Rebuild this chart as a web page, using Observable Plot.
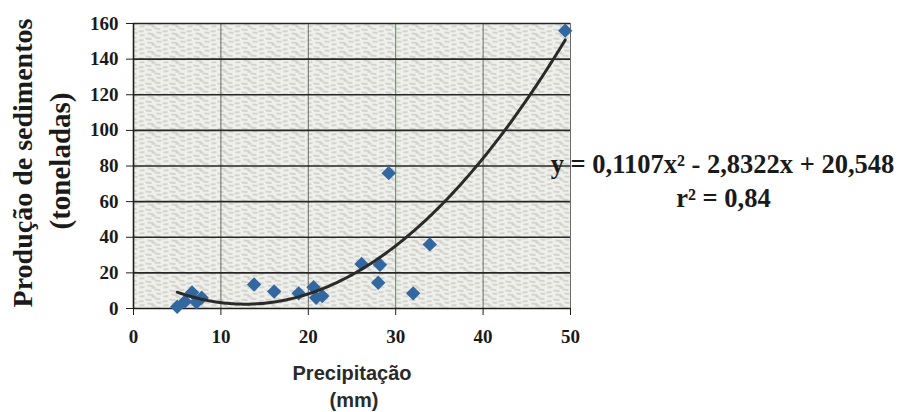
<!DOCTYPE html>
<html>
<head>
<meta charset="utf-8">
<script src="https://cdn.jsdelivr.net/npm/d3@7"></script>
<script src="https://cdn.jsdelivr.net/npm/@observablehq/plot@0.6"></script>
<style>
  html, body { margin: 0; padding: 0; background: #ffffff; }
  #chart { width: 904px; height: 412px; overflow: hidden; }
</style>
</head>
<body>
<div id="chart"></div>
<script>
// Precipitação (mm)
const precip = [5.0, 5.9, 6.7, 7.2, 7.8, 13.8, 16.1, 18.9, 20.6, 20.9, 21.6, 26.1, 28.0, 28.2, 29.2, 32.0, 33.9, 49.4];
// Produção de sedimentos (toneladas)
const sediment = [1, 4, 9, 3.5, 6, 13.5, 9.5, 8.5, 12, 6, 7, 25, 14.5, 24.5, 76, 8.5, 36, 156];
// Trend line coefficients (y = a x² + b x + c), as shown on the chart
const trendCoef = [0.1107, -2.8322, 20.548];
const xTicks = [0, 10, 20, 30, 40, 50];
const yTicks = [0, 20, 40, 60, 80, 100, 120, 140, 160];
const yTitle = ["Produção de sedimentos", "(toneladas)"];
const xTitle = ["Precipitação", "(mm)"];
const eqLines = ["y = 0,1107x² - 2,8322x + 20,548", "r² = 0,84"];

const points = precip.map((x, i) => ({x, y: sediment[i]}));
const xMin = d3.min(precip), xMax = d3.max(precip);
const trend = d3.range(0, 201).map(k => {
  const x = xMin + (xMax - xMin) * k / 200;
  return {x, y: trendCoef[0] * x * x + trendCoef[1] * x + trendCoef[2]};
});

const serif = "'Liberation Serif', 'Times New Roman', serif";
const sans = "'Liberation Sans', Arial, sans-serif";

const chart = Plot.plot({
  width: 904,
  height: 412,
  marginLeft: 133,
  marginRight: 334,
  marginTop: 23,
  marginBottom: 104,
  style: {fontFamily: serif, fontSize: "19px", fontWeight: "bold", color: "#1a1a1a", background: "#ffffff"},
  x: {domain: [0, 50]},
  y: {domain: [0, 160]},
  marks: [
    Plot.frame({fill: "url(#tex)", stroke: "none"}),
    Plot.ruleX(xTicks.filter(d => d !== 0 && d !== 30), {stroke: "#6a6a6a", strokeWidth: 1}),
    Plot.ruleX([30], {stroke: "#3f9a42", strokeWidth: 1}),
    Plot.ruleY(yTicks.filter(d => d > 0), {stroke: "#262626", strokeWidth: 1.6}),
    Plot.ruleY([0], {stroke: "#1e1e1e", strokeWidth: 1.6}),
    Plot.ruleX([0], {stroke: "#1e1e1e", strokeWidth: 1.6}),
    Plot.axisX({ticks: xTicks, tickSize: 7, tickPadding: 14, tickFormat: d => d, label: null, stroke: "#1e1e1e", fontSize: 19, fontWeight: "bold"}),
    Plot.axisY({ticks: yTicks, tickSize: 7, tickPadding: 8, tickFormat: d => d, label: null, stroke: "#1e1e1e", fontSize: 19, fontWeight: "bold"}),
    Plot.dot(points, {x: "x", y: "y", symbol: "diamond2", r: 6.5, fill: "#33679f", stroke: "none"}),
    Plot.line(trend, {x: "x", y: "y", stroke: "#2a2a2a", strokeWidth: 3, curve: "linear"}),
    Plot.text([yTitle[0]], {text: d => d, frameAnchor: "left", textAnchor: "middle", lineAnchor: "middle", rotate: -90, dx: -110, dy: -3, fontSize: 28, fontWeight: "bold", fontFamily: serif, fill: "#1a1a1a"}),
    Plot.text([yTitle[1]], {text: d => d, frameAnchor: "left", textAnchor: "middle", lineAnchor: "middle", rotate: -90, dx: -73, dy: -5, fontSize: 29, fontWeight: "bold", fontFamily: serif, fill: "#1a1a1a"}),
    Plot.text([xTitle[0]], {text: d => d, frameAnchor: "bottom", textAnchor: "middle", lineAnchor: "middle", dx: 0, dy: 65, fontSize: 20, fontWeight: "bold", fontFamily: sans, fill: "#2a2a2a"}),
    Plot.text([xTitle[1]], {text: d => d, frameAnchor: "bottom", textAnchor: "middle", lineAnchor: "middle", dx: 2, dy: 92, fontSize: 20, fontWeight: "bold", fontFamily: sans, fill: "#2a2a2a"}),
    Plot.text([eqLines[0]], {text: d => d, frameAnchor: "right", textAnchor: "middle", lineAnchor: "middle", dx: 152, dy: -1, fontSize: 26.5, fontWeight: "bold", fontFamily: serif, fill: "#1a1a1a"}),
    Plot.text([eqLines[1]], {text: d => d, frameAnchor: "right", textAnchor: "middle", lineAnchor: "middle", dx: 153, dy: 33, fontSize: 26.5, fontWeight: "bold", fontFamily: serif, fill: "#1a1a1a"})
  ]
});

// paper-like texture for the plot area background
const svg = d3.select(chart);
const defs = svg.insert("defs", ":first-child");
const pat = defs.append("pattern").attr("id", "tex").attr("patternUnits", "userSpaceOnUse")
  .attr("width", 24).attr("height", 9);
pat.append("rect").attr("width", 24).attr("height", 9).attr("fill", "#efefeb");
const strokes = [[1, 2, 7, 2.6], [10, 1, 16, 1.5], [18, 4, 23, 3.6], [3, 6, 9, 6.5], [12, 5, 17, 5.4], [19, 8, 24, 7.6], [7, 8.3, 11, 8]];
strokes.forEach(([a, b, c, d]) => pat.append("line").attr("x1", a).attr("y1", b).attr("x2", c).attr("y2", d)
  .attr("stroke", "#a9a9a4").attr("stroke-width", 0.8));

document.getElementById("chart").appendChild(chart);
</script>
</body>
</html>
